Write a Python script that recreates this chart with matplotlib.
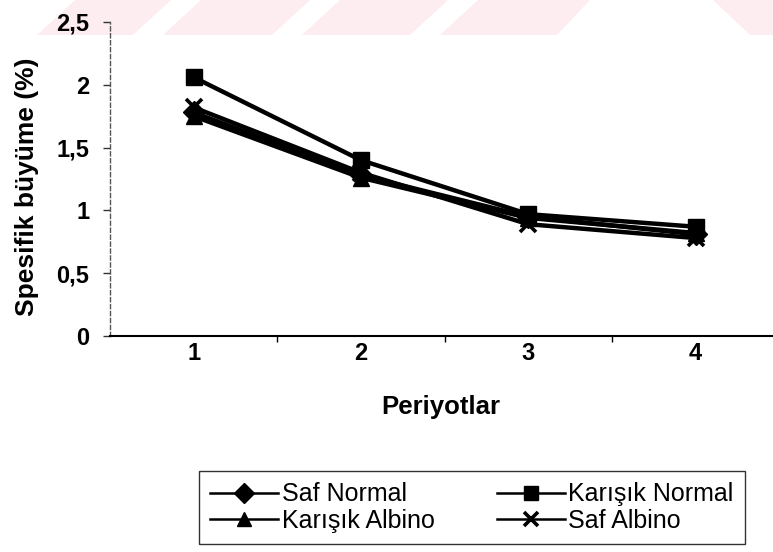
import matplotlib

matplotlib.use("Agg")
import matplotlib.pyplot as plt
from matplotlib.patches import Polygon, Rectangle

plt.rcParams["font.family"] = ["Liberation Sans", "DejaVu Sans"]

periods = [1, 2, 3, 4]
period_labels = ["1", "2", "3", "4"]
saf_normal = [1.78, 1.28, 0.95, 0.81]
karisik_normal = [2.06, 1.40, 0.97, 0.87]
karisik_albino = [1.75, 1.26, 0.94, 0.82]
saf_albino = [1.82, 1.30, 0.89, 0.78]
y_ticks = [0, 0.5, 1, 1.5, 2, 2.5]
y_tick_labels = ["0", "0,5", "1", "1,5", "2", "2,5"]

W, H = 773, 552
fig = plt.figure(figsize=(W / 100, H / 100), dpi=100)

# faint pink watermark band across the top of the scanned page
wm = fig.add_axes([0, 1 - 35 / H, 1, 35 / H])
wm.set_xlim(0, W)
wm.set_ylim(35, 0)
wm.axis("off")
wm.add_patch(Rectangle((37, 0), W, 35, color="#fdedf0", lw=0))
for x0 in [0, 133, 272, 410]:
    width = 37 if x0 == 0 else 30
    wm.add_patch(Polygon([(x0, 35), (x0 + width, 35), (x0 + width + 38, 0), (x0 + 38, 0)],
                         closed=True, color="white", lw=0))
wm.add_patch(Polygon([(557, 35), (750, 35), (713, 0), (590, 0)], closed=True, color="white", lw=0))

# main chart
left, right = 110, W
bottom, top = H - 336, H - 22
ax = fig.add_axes([left / W, bottom / H, (right - left) / W, (top - bottom) / H])
ax.set_facecolor("none")

style = dict(color="black", linewidth=3.2, markersize=11)
l_sn, = ax.plot(periods, saf_normal, marker="D", label="Saf Normal", **style)
l_kn, = ax.plot(periods, karisik_normal, marker="s", label="Karışık Normal", **style)
l_ka, = ax.plot(periods, karisik_albino, marker="^", label="Karışık Albino", **style)
l_sa, = ax.plot(periods, saf_albino, marker="x", markeredgewidth=2.6, label="Saf Albino", **style)

ax.set_xlim(0.5, 0.5 + (right - left) / 167.3)
ax.set_ylim(0, 2.5)
ax.set_xticks(periods)
ax.set_xticklabels(period_labels, fontsize=17, fontweight="bold")
ax.set_xticks([1.5, 2.5, 3.5], minor=True)
ax.tick_params(axis="x", which="major", length=0, pad=4)
ax.tick_params(axis="x", which="minor", length=4, direction="out", width=1)
ax.set_yticks(y_ticks)
ax.set_yticklabels(y_tick_labels, fontsize=17, fontweight="bold")
ax.tick_params(axis="y", length=5, width=1, pad=10, color="#333333")

ax.spines["top"].set_visible(False)
ax.spines["right"].set_visible(False)
ax.spines["bottom"].set_linewidth(1.5)
ax.spines["left"].set_linewidth(1.0)
ax.spines["left"].set_color("#555555")
ax.spines["left"].set_linestyle((0, (3, 2)))

fig.text(27 / W, 1 - 187 / H, "Spesifik büyüme (%)", rotation=90,
         fontsize=19, fontweight="bold", ha="center", va="center")
fig.text(441 / W, 1 - 407 / H, "Periyotlar", fontsize=18.5, fontweight="bold",
         ha="center", va="center")

# legend filled row by row: Saf Normal, Karışık Normal / Karışık Albino, Saf Albino
leg = fig.legend([l_sn, l_ka, l_kn, l_sa],
                 [l_sn.get_label(), l_ka.get_label(), l_kn.get_label(), l_sa.get_label()],
                 loc="center", bbox_to_anchor=(472 / W, 1 - 507.5 / H), ncol=2,
                 frameon=True, fancybox=False, edgecolor="black", fontsize=18,
                 handlelength=2.7, handletextpad=0.15, columnspacing=2.5,
                 labelspacing=0.1, borderpad=0.45, markerscale=0.9)
leg.get_frame().set_linewidth(1.0)
for line in leg.get_lines():
    line.set_linewidth(1.8)

fig.savefig("out.png", dpi=100)
